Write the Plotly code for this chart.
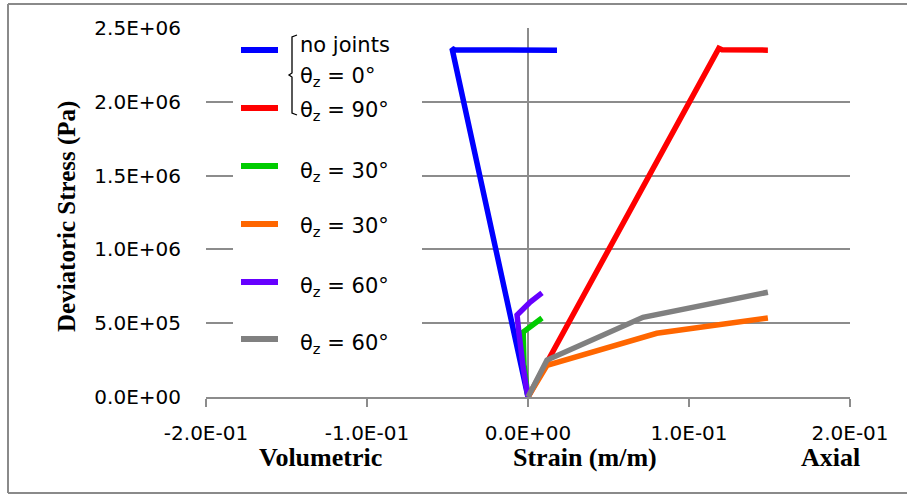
import plotly.graph_objects as go

# ---- data (strain in m/m, deviatoric stress in Pa) ----
no_joints_x = [0.0, -0.0472, -0.0455, 0.018]
no_joints_y = [0.0, 2.362e6, 2.352e6, 2.35e6]

theta90_x = [0.0, 0.1185, 0.1205, 0.149]
theta90_y = [0.0, 2.362e6, 2.352e6, 2.35e6]

theta30_vol_x = [0.0, -0.0025, -0.003, 0.0087]
theta30_vol_y = [0.0, 0.22e6, 0.44e6, 0.535e6]

theta30_ax_x = [0.0, 0.0118, 0.080, 0.149]
theta30_ax_y = [0.0, 0.215e6, 0.432e6, 0.535e6]

theta60_vol_x = [0.0, -0.003, -0.0058, -0.0068, 0.0012, 0.0087]
theta60_vol_y = [0.0, 0.2e6, 0.45e6, 0.555e6, 0.642e6, 0.705e6]

theta60_ax_x = [0.0, 0.0118, 0.0714, 0.149]
theta60_ax_y = [0.0, 0.25e6, 0.54e6, 0.71e6]

series_colors = ["#0000FF", "#FF0000", "#00CC00", "#FF6600", "#6600FF", "#808080"]
legend_labels = ["no joints", "θ<sub>z</sub> = 0°", "θ<sub>z</sub> = 90°",
                 "θ<sub>z</sub> = 30°", "θ<sub>z</sub> = 30°",
                 "θ<sub>z</sub> = 60°", "θ<sub>z</sub> = 60°"]

x_tickvals = [-0.2, -0.1, 0.0, 0.1, 0.2]
x_ticktext = ["-2.0E-01", "-1.0E-01", "0.0E+00", "1.0E-01", "2.0E-01"]
y_tickvals = [0, 0.5e6, 1.0e6, 1.5e6, 2.0e6, 2.5e6]
y_ticktext = ["0.0E+00", "5.0E+05", "1.0E+06", "1.5E+06", "2.0E+06", "2.5E+06"]

# ---- figure geometry (pixels) ----
W, H = 907, 495
L, R, T, B = 206, 850, 28, 397


def px(x):
    return (x - L) / (R - L)


def py(y):
    return (B - y) / (B - T)


fig = go.Figure()
series = [
    (no_joints_x, no_joints_y),
    (theta90_x, theta90_y),
    (theta30_vol_x, theta30_vol_y),
    (theta30_ax_x, theta30_ax_y),
    (theta60_vol_x, theta60_vol_y),
    (theta60_ax_x, theta60_ax_y),
]
for (xs, ys), c in zip(series, series_colors):
    fig.add_trace(go.Scatter(x=xs, y=ys, mode="lines",
                             line=dict(color=c, width=5.5),
                             showlegend=False, hoverinfo="skip"))

grid = "#8c8c8c"
tickfont = dict(family="DejaVu Sans", size=20, color="#000000")
fig.update_xaxes(range=[-0.2, 0.2], tickvals=x_tickvals, ticktext=x_ticktext,
                 showgrid=False, zeroline=True, zerolinecolor=grid, zerolinewidth=1.5,
                 showline=True, linecolor=grid, linewidth=1.5,
                 ticks="outside", ticklen=8, tickcolor=grid, tickwidth=1.5,
                 tickfont=tickfont, ticklabelstandoff=9)
fig.update_yaxes(range=[0, 2.5e6], tickvals=y_tickvals, ticktext=y_ticktext,
                 showgrid=True, gridcolor=grid, gridwidth=1.5,
                 zeroline=False, showline=False, ticks="",
                 tickfont=tickfont, ticklabelstandoff=24)

shapes = []
annotations = []

# outer border (left, top, bottom)
bc = "#8a8a8a"
for (x0, y0, x1, y1) in [(8, 4, 8, 493), (8, 4, 907, 4), (8, 493, 907, 493)]:
    shapes.append(dict(type="line", xref="paper", yref="paper",
                       x0=px(x0), y0=py(y0), x1=px(x1), y1=py(y1),
                       line=dict(color=bc, width=2), layer="above"))

# white legend boxes
shapes.append(dict(type="rect", xref="paper", yref="paper",
                   x0=px(233), x1=px(422), y0=py(385), y1=py(33),
                   fillcolor="white", line=dict(width=0), layer="above"))
shapes.append(dict(type="rect", xref="paper", yref="paper",
                   x0=px(280), x1=px(422), y0=py(40), y1=py(22),
                   fillcolor="white", line=dict(width=0), layer="above"))

# legend samples
sample_y = [50, 108, 166, 224, 282, 339]
for yy, c in zip(sample_y, series_colors):
    shapes.append(dict(type="line", xref="paper", yref="paper",
                       x0=px(241), x1=px(278), y0=py(yy), y1=py(yy),
                       line=dict(color=c, width=6), layer="above"))

# bracket
bx = 292
path = (f"M {px(bx+5)},{py(35)} L {px(bx)},{py(37)} L {px(bx)},{py(73)} "
        f"L {px(bx-3)},{py(75)} L {px(bx)},{py(77)} L {px(bx)},{py(113)} "
        f"L {px(bx+5)},{py(115)}")
shapes.append(dict(type="path", xref="paper", yref="paper", path=path,
                   line=dict(color="#000000", width=1.3), layer="above"))

# legend text
legend_text_y = [45, 77, 111, 172, 227, 287, 344]
lfont = dict(family="DejaVu Sans", size=21, color="#000000")
for txt, yy in zip(legend_labels, legend_text_y):
    annotations.append(dict(text=txt, xref="paper", yref="paper",
                            x=px(298), y=py(yy), xanchor="left", yanchor="middle",
                            showarrow=False, font=lfont))

# axis titles
tfont = dict(family="Liberation Serif", size=26, color="#000000", weight="bold")
for txt, xx in [("Volumetric", 320), ("Strain (m/m)", 585), ("Axial", 830)]:
    annotations.append(dict(text=txt, xref="paper", yref="paper",
                            x=px(xx), y=py(458), xanchor="center", yanchor="middle",
                            showarrow=False, font=tfont))
annotations.append(dict(text="Deviatoric Stress (Pa)", xref="paper", yref="paper",
                        x=px(67), y=py(217), xanchor="center", yanchor="middle",
                        textangle=-90, showarrow=False,
                        font=dict(family="Liberation Serif", size=25,
                                  color="#000000", weight="bold")))

fig.update_layout(width=W, height=H,
                  margin=dict(l=L, r=W - R, t=T, b=H - B),
                  paper_bgcolor="white", plot_bgcolor="white",
                  shapes=shapes, annotations=annotations, showlegend=False)

fig.write_html("out.html", config={"displayModeBar": False},
               post_script="document.body.style.margin='0';document.body.style.overflow='hidden';")
